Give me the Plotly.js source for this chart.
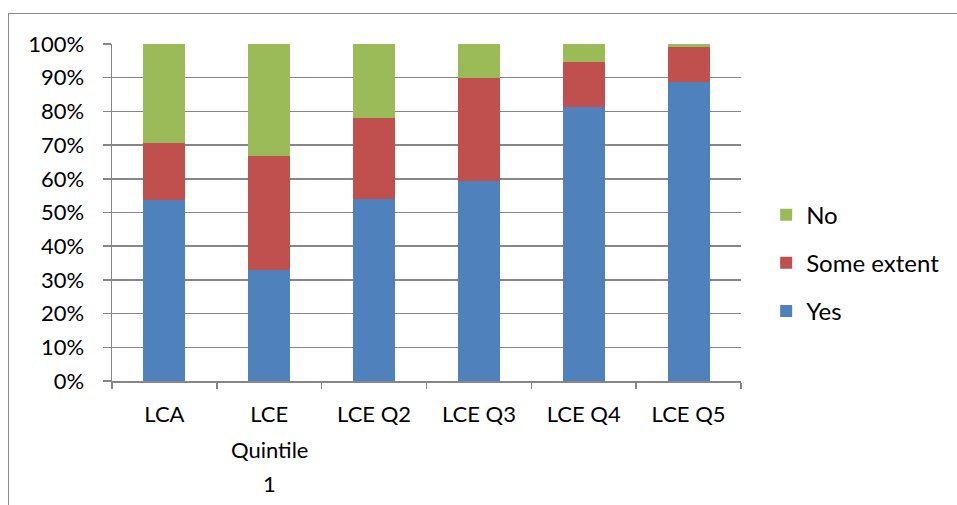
<!DOCTYPE html>
<html>
<head>
<meta charset="utf-8">
<script src="https://cdn.plot.ly/plotly-3.0.1.min.js"></script>
<style>
  html, body { margin: 0; padding: 0; background: #fff; }
  #wrap { position: relative; width: 957px; height: 505px; overflow: hidden; }
  #chart { position: absolute; left: 0; top: 0; width: 957px; height: 505px; }
  #frame { position: absolute; left: 8px; top: 13px; width: 1000px; height: 600px;
           border: 1.5px solid #8c8c8c; pointer-events: none; }
</style>
</head>
<body>
<div id="wrap">
  <div id="chart"></div>
  <div id="frame"></div>
</div>
<script>
const categories = ["LCA", "LCE Quintile 1", "LCE Q2", "LCE Q3", "LCE Q4", "LCE Q5"];
const tickLabelLines = [["LCA"], ["LCE", "Quintile", "1"], ["LCE Q2"], ["LCE Q3"], ["LCE Q4"], ["LCE Q5"]];
const yesValues = [53.6, 32.9, 54.0, 59.4, 81.2, 88.6];
const someExtentValues = [16.9, 33.9, 24.1, 30.6, 13.5, 10.6];
const noValues = [29.5, 33.2, 21.9, 10.0, 5.3, 0.8];
const yTickValues = [0, 10, 20, 30, 40, 50, 60, 70, 80, 90, 100];
const yTickLabels = ["0%", "10%", "20%", "30%", "40%", "50%", "60%", "70%", "80%", "90%", "100%"];

const FONT = "Lato, 'Open Sans', sans-serif";
const FS = 22;
const LFS = 24;

const series = [
  { name: "Yes", y: yesValues, color: "#4F81BD", rank: 3 },
  { name: "Some extent", y: someExtentValues, color: "#C0504D", rank: 2 },
  { name: "No", y: noValues, color: "#9BBB59", rank: 1 }
];
const traces = series.map(s => ({
  type: "bar",
  x: categories,
  y: s.y,
  name: s.name,
  legendgroup: s.name,
  legendrank: s.rank,
  marker: { color: s.color, line: { width: 0 } },
  hoverinfo: "skip"
}));

// extra lines of multi-line category labels, placed under the axis
const annotations = [];
tickLabelLines.forEach((lines, i) => {
  lines.slice(1).forEach((txt, j) => {
    annotations.push({
      x: categories[i], xref: "x",
      y: 0, yref: "y",
      yanchor: "middle", xanchor: "center",
      yshift: -34 - 34 * (j + 1),
      text: txt, showarrow: false,
      font: { family: FONT, size: FS, color: "#000" }
    });
  });
});

const layout = {
  width: 957,
  height: 505,
  margin: { l: 112, r: 213, t: 44, b: 124 },
  paper_bgcolor: "#ffffff",
  plot_bgcolor: "#ffffff",
  font: { family: FONT, size: FS, color: "#000000" },
  barmode: "stack",
  bargap: 0.6,
  showlegend: true,
  annotations: annotations,
  legend: {
    x: 1.04, y: 0.35, xanchor: "left", yanchor: "middle",
    traceorder: "grouped",
    tracegroupgap: 14,
    font: { family: FONT, size: LFS, color: "#000" },
    itemwidth: 30
  },
  xaxis: {
    type: "category",
    tickmode: "array",
    tickvals: categories,
    ticktext: tickLabelLines.map(l => l[0]),
    showline: true,
    linecolor: "#868686",
    linewidth: 1.5,
    showgrid: false,
    ticks: "outside",
    ticklen: 6,
    tickcolor: "#868686",
    tickwidth: 1.5,
    tickson: "boundaries",
    ticklabelstandoff: 13,
    zeroline: false,
    tickfont: { family: FONT, size: FS, color: "#000" }
  },
  yaxis: {
    range: [0, 100],
    tickmode: "array",
    tickvals: yTickValues,
    ticktext: yTickLabels,
    showline: true,
    linecolor: "#868686",
    linewidth: 1.5,
    showgrid: true,
    gridcolor: "#868686",
    gridwidth: 1.5,
    ticks: "outside",
    ticklen: 8,
    tickcolor: "#868686",
    tickwidth: 1.5,
    zeroline: false,
    ticklabelstandoff: 14,
    tickfont: { family: FONT, size: FS, color: "#000" }
  }
};

Plotly.newPlot("chart", traces, layout, { staticPlot: true, displayModeBar: false });
</script>
</body>
</html>
